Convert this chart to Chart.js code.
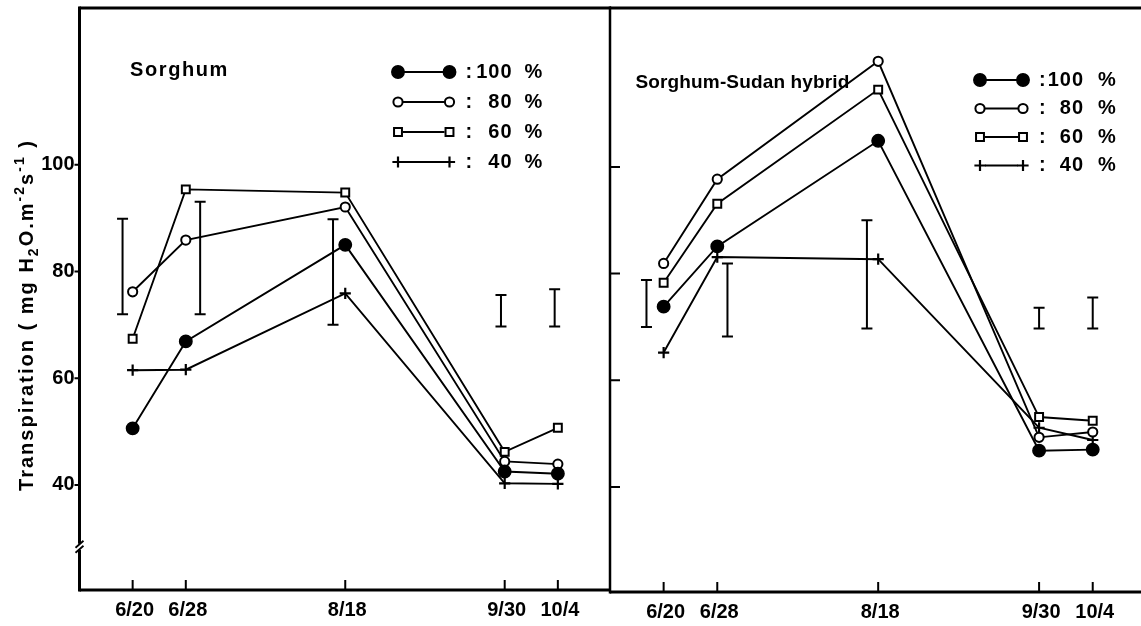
<!DOCTYPE html>
<html><head><meta charset="utf-8">
<script src="https://cdn.jsdelivr.net/npm/chart.js@4.4.1/dist/chart.umd.min.js"></script>
<style>
html,body{margin:0;padding:0;background:#fff;}
#wrap{position:relative;width:1141px;height:626px;overflow:hidden;background:#fff;}
canvas{position:absolute;left:0;top:0;}
</style></head><body>
<div id="wrap"><canvas id="c1" width="1141" height="626"></canvas><canvas id="c2" width="1141" height="626"></canvas></div>
<script>
// ---------- data ----------
const dates = ['6/20', '6/28', '8/18', '9/30', '10/4'];
const datePos = [0, 1, 4, 7, 8];            // ordinal spacing of sampling dates on the time axis
const yTicks = [40, 60, 80, 100];
const levels = ['100', '80', '60', '40'];    // irrigation level, %

const sorghum100 = [50.6, 66.9, 85.0, 42.5, 42.1];
const sorghum80  = [76.2, 85.9, 92.1, 44.4, 43.9];
const sorghum60  = [67.4, 95.4, 94.8, 46.2, 50.7];
const sorghum40  = [61.5, 61.6, 75.9, 40.3, 40.2];

const hybrid100 = [73.8, 85.1, 104.9, 46.8, 47.0];
const hybrid80  = [81.9, 97.7, 119.8, 49.3, 50.3];
const hybrid60  = [78.3, 93.1, 114.5, 53.1, 52.4];
const hybrid40  = [65.2, 83.1, 82.7, 51.1, 48.8];

// LSD-type error bars (position on time axis, low, high)
const sorghumErrPos  = [-0.19, 1.27, 3.77, 6.93, 7.94];
const sorghumErrLow  = [72.0, 72.0, 70.0, 69.7, 69.7];
const sorghumErrHigh = [89.9, 93.1, 89.8, 75.6, 76.7];
const hybridErrPos  = [-0.32, 1.19, 3.79, 7.0, 8.0];
const hybridErrLow  = [70.0, 68.2, 69.7, 69.7, 69.7];
const hybridErrHigh = [78.8, 81.9, 90.0, 73.6, 75.5];

// ---------- styles ----------
const NUMFONT = "'Liberation Sans', Arial, sans-serif";
const TXTFONT = "'Liberation Sans Narrow', 'Liberation Sans', Arial, sans-serif";
const markerStyles = [
  {pointStyle: 'circle', radius: 6.2, bg: '#000', bw: 1.5},
  {pointStyle: 'circle', radius: 4.6, bg: '#fff', bw: 2},
  {pointStyle: 'rect',   radius: 5.6, bg: '#fff', bw: 2},
  {pointStyle: 'cross',  radius: 5.6, bg: '#000', bw: 2.2}
];

function makeDatasets(seriesList) {
  return seriesList.map((vals, k) => {
    const m = markerStyles[k];
    return {
      label: levels[k] + ' %',
      data: datePos.map((x, i) => ({x: x, y: vals[i]})),
      borderColor: '#000', borderWidth: 1.9,
      pointStyle: m.pointStyle, pointRadius: m.radius,
      pointBackgroundColor: m.bg, pointBorderColor: '#000', pointBorderWidth: m.bw,
      pointHoverRadius: m.radius, tension: 0, fill: false
    };
  });
}

function fitText(ctx, text, width) {
  ctx.letterSpacing = '0px';
  const w = ctx.measureText(text).width;
  const n = text.length;
  return Math.max(0, (width - w) / n);
}

function drawMarker(ctx, k, x, y) {
  const m = markerStyles[k];
  ctx.save();
  ctx.fillStyle = m.bg; ctx.strokeStyle = '#000'; ctx.lineWidth = m.bw;
  Chart.helpers.drawPoint(ctx, {pointStyle: m.pointStyle, radius: m.radius, borderWidth: m.bw, rotation: 0}, x, y);
  ctx.restore();
}

function panelPlugin(cfg) {
  return {
    id: 'panel_' + cfg.name,
    beforeDatasetsDraw(chart) {
      const ctx = chart.ctx, xs = chart.scales.x, ys = chart.scales.y;
      ctx.save();
      ctx.strokeStyle = '#000'; ctx.lineWidth = 2;
      cfg.errPos.forEach((p, i) => {
        const x = xs.getPixelForValue(p);
        const y1 = ys.getPixelForValue(cfg.errLow[i]);
        const y2 = ys.getPixelForValue(cfg.errHigh[i]);
        ctx.beginPath();
        ctx.moveTo(x, y1); ctx.lineTo(x, y2);
        ctx.moveTo(x - 5.5, y1); ctx.lineTo(x + 5.5, y1);
        ctx.moveTo(x - 5.5, y2); ctx.lineTo(x + 5.5, y2);
        ctx.stroke();
      });
      ctx.restore();
    },
    afterDraw(chart) {
      const ctx = chart.ctx, a = chart.chartArea, xs = chart.scales.x, ys = chart.scales.y;
      ctx.save();
      ctx.strokeStyle = '#000'; ctx.lineCap = 'butt';
      // frame
      ctx.lineWidth = 3;
      ctx.beginPath();
      ctx.moveTo(a.left, a.top); ctx.lineTo(a.right, a.top);
      ctx.moveTo(a.left, a.bottom); ctx.lineTo(a.right, a.bottom);
      ctx.stroke();
      ctx.lineWidth = cfg.axisWidth;
      ctx.beginPath();
      ctx.moveTo(a.left, a.top - 1.5); ctx.lineTo(a.left, a.bottom + 1.5);
      ctx.stroke();
      // y tick marks
      ctx.lineWidth = 2;
      ctx.beginPath();
      yTicks.forEach(v => {
        const y = ys.getPixelForValue(v);
        ctx.moveTo(a.left, y); ctx.lineTo(a.left + cfg.yTickLen, y);
      });
      // x tick marks (inward)
      datePos.forEach(v => {
        const x = xs.getPixelForValue(v);
        ctx.moveTo(x, a.bottom); ctx.lineTo(x, a.bottom - 10);
      });
      ctx.stroke();
      // axis break
      if (cfg.axisBreak) {
        const yb = ys.getPixelForValue(cfg.axisBreak);
        ctx.fillStyle = '#fff';
        ctx.fillRect(a.left - 3, yb - 3, 6, 6);
        ctx.lineWidth = 1.8;
        ctx.beginPath();
        ctx.moveTo(a.left - 4, yb + 1); ctx.lineTo(a.left + 4, yb - 6);
        ctx.moveTo(a.left - 4, yb + 6); ctx.lineTo(a.left + 4, yb - 1);
        ctx.stroke();
      }
      // panel title
      ctx.fillStyle = '#000';
      ctx.font = 'bold ' + cfg.titleSize + 'px ' + TXTFONT;
      ctx.textBaseline = 'alphabetic'; ctx.textAlign = 'left';
      const sp = fitText(ctx, cfg.title, cfg.titleWidth);
      ctx.letterSpacing = sp + 'px';
      ctx.fillText(cfg.title, a.left + cfg.titleDX, a.top + cfg.titleDY);
      ctx.letterSpacing = '0px';
      // legend
      ctx.font = 'bold 20px ' + NUMFONT;
      ctx.textBaseline = 'middle';
      levels.forEach((lab, k) => {
        const y = a.top + cfg.legTop + k * cfg.legStep;
        const x1 = a.left + cfg.legX1, x2 = a.left + cfg.legX2;
        ctx.lineWidth = 1.9;
        ctx.beginPath();
        ctx.moveTo(x1 + 5, y); ctx.lineTo(x2 - 5, y);
        ctx.stroke();
        drawMarker(ctx, k, x1, y);
        drawMarker(ctx, k, x2, y);
        ctx.textAlign = 'left';
        ctx.fillText(':', a.left + cfg.legColon, y);
        ctx.textAlign = 'right';
        ctx.letterSpacing = '1px';
        ctx.fillText(lab, a.left + cfg.legNumRight, y);
        ctx.letterSpacing = '0px';
        ctx.textAlign = 'left';
        ctx.fillText('%', a.left + cfg.legPct, y);
      });
      // y-axis title
      if (cfg.yTitle) {
        const parts = [
          {t: 'Transpiration ( mg H', s: 0},
          {t: '2', s: 1},
          {t: 'O.m', s: 0},
          {t: '-2', s: -1},
          {t: 's', s: 0},
          {t: '-1', s: -1},
          {t: ' )', s: 0}
        ];
        const big = 'bold 20px ' + TXTFONT, small = 'bold 14px ' + TXTFONT;
        let total = 0, nch = 0;
        parts.forEach(p => { ctx.font = p.s ? small : big; ctx.letterSpacing = '0px'; p.w = ctx.measureText(p.t).width; total += p.w; nch += p.t.length; });
        const ls = Math.max(0, (cfg.yTitleLen - total) / nch);
        ctx.translate(cfg.yTitleX, cfg.yTitleY);
        ctx.rotate(-Math.PI / 2);
        ctx.textAlign = 'left'; ctx.textBaseline = 'alphabetic';
        let x = -cfg.yTitleLen / 2;
        ctx.letterSpacing = ls + 'px';
        parts.forEach(p => {
          ctx.font = p.s ? small : big;
          const dy = p.s === 1 ? 5 : (p.s === -1 ? -9 : 0);
          ctx.fillText(p.t, x, dy);
          x += p.w + ls * p.t.length;
        });
        ctx.letterSpacing = '0px';
      }
      ctx.restore();
    }
  };
}

function noPad(s) { s.paddingTop = 0; s.paddingBottom = 0; s.paddingLeft = 0; s.paddingRight = 0; }

function xScale(maxV, h) {
  return {
    type: 'linear', min: -1, max: maxV,
    afterBuildTicks: s => { s.ticks = datePos.map(v => ({value: v})); },
    afterFit: s => { s.height = h; noPad(s); },
    grid: {display: false, drawTicks: false}, border: {display: false},
    ticks: {
      callback: v => dates[datePos.indexOf(v)],
      font: {family: NUMFONT, size: 20, weight: 'bold'}, color: '#000',
      padding: 8, labelOffset: 2, maxRotation: 0, autoSkip: false
    }
  };
}

function yScale(minV, maxV, w, show) {
  return {
    type: 'linear', min: minV, max: maxV, display: show,
    afterBuildTicks: s => { s.ticks = yTicks.map(v => ({value: v})); },
    afterFit: s => { s.width = w; noPad(s); },
    grid: {display: false, drawTicks: false}, border: {display: false},
    ticks: {font: {family: NUMFONT, size: 20, weight: 'bold'}, color: '#000', padding: 5}
  };
}

Chart.defaults.animation = false;

new Chart(document.getElementById('c1'), {
  type: 'line',
  data: {datasets: makeDatasets([sorghum100, sorghum80, sorghum60, sorghum40])},
  options: {
    responsive: false, devicePixelRatio: 1, animation: false,
    layout: {autoPadding: false, padding: {left: 0, top: 8, right: 530, bottom: 0}},
    plugins: {legend: {display: false}, tooltip: {enabled: false}},
    scales: {x: xScale(9, 36), y: yScale(20.3, 129.4, 79.5, true)}
  },
  plugins: [panelPlugin({
    name: 'sorghum', errPos: sorghumErrPos, errLow: sorghumErrLow, errHigh: sorghumErrHigh,
    axisWidth: 3, yTickLen: -5, axisBreak: 28.4,
    title: 'Sorghum', titleSize: 20, titleDX: 50.5, titleDY: 68, titleWidth: 99,
    legTop: 64, legStep: 30, legX1: 318.5, legX2: 370, legColon: 386, legNumRight: 433, legPct: 445,
    yTitle: true, yTitleX: 33, yTitleY: 315, yTitleLen: 352
  })]
});

new Chart(document.getElementById('c2'), {
  type: 'line',
  data: {datasets: makeDatasets([hybrid100, hybrid80, hybrid60, hybrid40])},
  options: {
    responsive: false, devicePixelRatio: 1, animation: false,
    layout: {autoPadding: false, padding: {left: 610, top: 8, right: 0, bottom: 0}},
    plugins: {legend: {display: false}, tooltip: {enabled: false}},
    scales: {x: xScale(8.9, 34), y: yScale(20.3, 129.8, 0, false)}
  },
  plugins: [panelPlugin({
    name: 'hybrid', errPos: hybridErrPos, errLow: hybridErrLow, errHigh: hybridErrHigh,
    axisWidth: 2.5, yTickLen: 10, axisBreak: null,
    title: 'Sorghum-Sudan hybrid', titleSize: 19, titleDX: 25.5, titleDY: 80, titleWidth: 214,
    legTop: 72, legStep: 28.5, legX1: 370, legX2: 413, legColon: 429, legNumRight: 474, legPct: 488,
    yTitle: false
  })]
});
</script>
</body></html>
